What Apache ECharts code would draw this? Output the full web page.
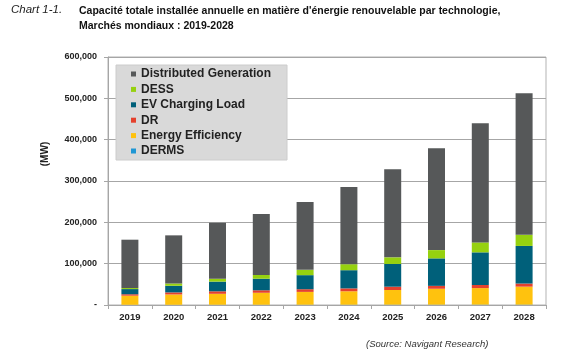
<!DOCTYPE html>
<html>
<head>
<meta charset="utf-8">
<script src="https://cdn.jsdelivr.net/npm/echarts@6/dist/echarts.min.js"></script>
<style>
html,body{margin:0;padding:0;background:#fff;}
#c{width:575px;height:360px;}
</style>
</head>
<body>
<div id="c"></div>
<script>
const categories = ['2019','2020','2021','2022','2023','2024','2025','2026','2027','2028'];
const derms = [500, 500, 600, 600, 700, 700, 800, 800, 900, 900];
const energyEfficiency = [22000, 25000, 26500, 29000, 31000, 32500, 35500, 38500, 40000, 43500];
const dr = [3500, 5000, 6000, 6000, 6500, 7000, 8000, 7000, 7500, 7500];
const evCharging = [12500, 16000, 23500, 28000, 34000, 44000, 55000, 66500, 79000, 91000];
const dess = [2500, 5500, 7000, 9000, 12800, 14500, 16000, 20000, 24000, 27000];
const distributedGeneration = [117000, 116500, 135500, 147500, 164000, 186500, 213000, 246500, 288500, 342700];
const yTicks = [0, 100000, 200000, 300000, 400000, 500000, 600000];

const FONT = 'Arial, "Liberation Sans", sans-serif';
const seriesDefs = [
  {name:'DERMS', data:derms, color:'#1f97d4'},
  {name:'Energy Efficiency', data:energyEfficiency, color:'#ffc20e'},
  {name:'DR', data:dr, color:'#e5412d'},
  {name:'EV Charging Load', data:evCharging, color:'#00607a'},
  {name:'DESS', data:dess, color:'#96d10f'},
  {name:'Distributed Generation', data:distributedGeneration, color:'#565859'}
];

const chart = echarts.init(document.getElementById('c'), null, {renderer:'canvas'});
chart.setOption({
  backgroundColor:'#ffffff',
  animation:false,
  textStyle:{fontFamily:FONT},
  title:[
    {text:'Chart 1-1.', left:11, top:4, padding:0, textStyle:{fontFamily:FONT, fontSize:11.5, fontStyle:'italic', fontWeight:'normal', color:'#222'}},
    {text:"Capacité totale installée annuelle en matière d'énergie renouvelable par technologie,\nMarchés mondiaux : 2019-2028", left:79, top:4, padding:0,
     textStyle:{fontFamily:FONT, fontSize:10.5, fontWeight:'bold', color:'#111', lineHeight:15}},
    {text:'(Source: Navigant Research)', left:366, top:339, padding:0, textStyle:{fontFamily:FONT, fontSize:9.5, fontStyle:'italic', fontWeight:'normal', color:'#333'}}
  ],
  graphic:[
    {type:'text', x:40, y:154, rotation:Math.PI/2,
     style:{text:'(MW)', fontFamily:FONT, fontSize:10, fontWeight:'bold', fill:'#222', textAlign:'center', textVerticalAlign:'top'}}
  ],
  legend:{
    data:['Distributed Generation','DESS','EV Charging Load','DR','Energy Efficiency','DERMS'],
    orient:'vertical', left:116, top:65,
    padding:[3,16,3,15], itemGap:3.4, itemWidth:5, itemHeight:5, icon:'rect',
    backgroundColor:'#d9d9d9', borderColor:'#cccccc', borderWidth:1,
    textStyle:{fontFamily:FONT, fontSize:12, fontWeight:'bold', color:'#222', padding:[0,0,0,0]},
    selectedMode:false
  },
  grid:{left:108, right:29, top:57, bottom:55, show:true, borderColor:'#b3b3b3', borderWidth:1},
  xAxis:{
    type:'category', data:categories,
    axisLine:{lineStyle:{color:'#a6a6a6'}},
    axisTick:{show:true, length:4, lineStyle:{color:'#a6a6a6'}},
    axisLabel:{fontFamily:FONT, fontSize:9.5, fontWeight:'bold', color:'#222', margin:7}
  },
  yAxis:{
    type:'value', min:0, max:600000, interval:100000,
    axisLine:{show:true, lineStyle:{color:'#a6a6a6'}},
    axisTick:{show:true, length:4, lineStyle:{color:'#a6a6a6'}},
    splitLine:{lineStyle:{color:'#a6a6a6'}},
    axisLabel:{fontFamily:FONT, fontSize:9, fontWeight:'bold', color:'#222', margin:11,
      formatter:function(v){ return v===0 ? '-' : v.toLocaleString('en-US'); }}
  },
  series: seriesDefs.map(s => ({
    name:s.name, type:'bar', stack:'total', data:s.data, barWidth:17,
    itemStyle:{color:s.color}
  }))
});
</script>
</body>
</html>
